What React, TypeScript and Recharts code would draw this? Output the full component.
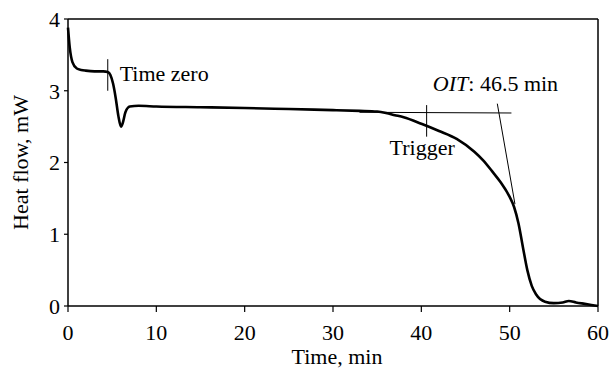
import { LineChart, Line, XAxis, YAxis, ReferenceLine, ReferenceDot, Label } from "recharts";

const time = [
  0, 0.2, 0.5, 1, 1.5, 2, 3, 4, 4.5, 4.8, 5.1, 5.4, 5.7, 6.0, 6.2, 6.5, 7, 8, 10, 15, 20, 25, 30, 33, 35,
  36, 37, 38, 40, 42, 44, 46, 47, 48, 49, 50, 50.5, 51, 51.5, 52, 52.5, 53, 54, 55, 56, 56.7, 57.5, 58.5, 60,
];
const heatFlow = [
  3.88, 3.6, 3.4, 3.31, 3.29, 3.28, 3.27, 3.27, 3.26, 3.22, 3.1, 2.9, 2.65, 2.5, 2.55, 2.7, 2.78, 2.79, 2.78,
  2.77, 2.76, 2.745, 2.73, 2.72, 2.71, 2.69, 2.66, 2.63, 2.54, 2.44, 2.33, 2.15, 2.03, 1.88, 1.72, 1.52, 1.38,
  1.15, 0.82, 0.5, 0.28, 0.16, 0.06, 0.04, 0.05, 0.07, 0.05, 0.03, 0.0,
];

const xTicks = [0, 10, 20, 30, 40, 50, 60];
const yTicks = [0, 1, 2, 3, 4];

// marker lines drawn on the curve: [x1, y1, x2, y2]
const markers = [
  [4.5, 3.44, 4.5, 3.0], // time zero
  [40.6, 2.8, 40.6, 2.36], // trigger
  [33, 2.7, 50.2, 2.69], // baseline extension
  [48.6, 2.82, 50.6, 1.42], // tangent at onset
];

const notes = [
  { x: 5.85, y: 3.14, text: "Time zero" },
  { x: 36.4, y: 2.1, text: "Trigger" },
  { x: 41.3, y: 2.99, text: "OIT" },
];

const data = time.map((t, i) => ({ t, hf: heatFlow[i] }));

const font = "Liberation Serif, Times New Roman, Times, serif";
const txt = { fill: "#000", fontFamily: font };

const noteLabel = (text: string) => (props: any) => {
  const { x, y } = props.viewBox;
  if (text === "OIT") {
    return (
      <text x={x} y={y} fontSize={22} style={txt}>
        <tspan fontStyle="italic">OIT</tspan>
        <tspan>: 46.5 min</tspan>
      </text>
    );
  }
  return (
    <text x={x} y={y} fontSize={22} style={txt}>
      {text}
    </text>
  );
};

export default function App() {
  return (
    <div style={{ position: "absolute", left: 0, top: 0, background: "#fff", fontFamily: font }}>
      <LineChart width={612} height={370} data={data} margin={{ top: 19, right: 14, bottom: 0, left: 0 }}>
        <XAxis
          dataKey="t"
          type="number"
          domain={[0, 60]}
          ticks={xTicks}
          height={64}
          tickSize={6}
          tickMargin={12}
          axisLine={{ stroke: "#000", strokeWidth: 1.5 }}
          tickLine={{ stroke: "#000", strokeWidth: 1.2 }}
          tick={{ fill: "#000", fontSize: 22, fontFamily: font, style: txt }}
        >
          <Label value="Time, min" position="insideBottom" offset={6} dx={4} style={{ ...txt, fontSize: 22 }} />
        </XAxis>
        <YAxis
          type="number"
          domain={[0, 4]}
          ticks={yTicks}
          width={68}
          tickSize={4}
          tickMargin={4}
          axisLine={{ stroke: "#000", strokeWidth: 1.5 }}
          tickLine={{ stroke: "#000", strokeWidth: 1.2 }}
          tick={{ fill: "#000", fontSize: 22, fontFamily: font, style: txt }}
        >
          <Label
            value="Heat flow, mW"
            angle={-90}
            position="insideLeft"
            offset={20}
            style={{ ...txt, fontSize: 22, textAnchor: "middle" }}
          />
        </YAxis>
        <ReferenceLine y={4} stroke="#000" strokeWidth={1.5} />
        <ReferenceLine x={60} stroke="#000" strokeWidth={1.5} />
        {markers.map((m, i) => (
          <ReferenceLine
            key={i}
            segment={[
              { x: m[0], y: m[1] },
              { x: m[2], y: m[3] },
            ]}
            stroke="#000"
            strokeWidth={1}
          />
        ))}
        <Line type="monotone" dataKey="hf" stroke="#000" strokeWidth={2.6} dot={false} isAnimationActive={false} />
        {notes.map((n, i) => (
          <ReferenceDot key={i} x={n.x} y={n.y} r={0} stroke="none" fill="none" label={noteLabel(n.text)} />
        ))}
      </LineChart>
    </div>
  );
}
